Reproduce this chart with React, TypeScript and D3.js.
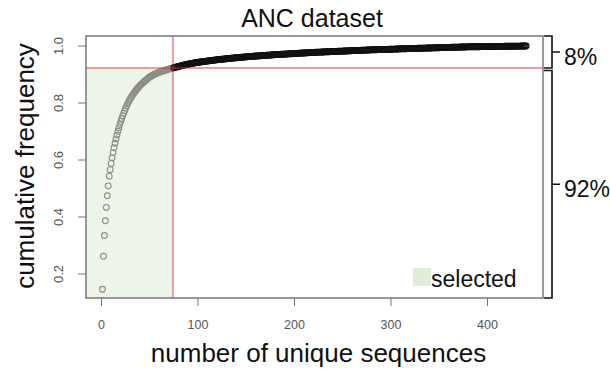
import React from "react";
import * as d3 from "d3";

// Read counts of the most abundant unique sequences, ranks 1-100 (descending)
const topCounts = [
  2940, 2320, 1460, 1040, 940, 820, 700, 680, 460, 440,
  400, 360, 340, 320, 300, 280, 260, 240, 240, 220,
  200, 200, 180, 175, 165, 155, 145, 140, 125, 120,
  115, 110, 100, 100, 90, 88, 84, 80, 76, 72,
  70, 67, 64, 61, 58, 58, 57, 56, 55, 54,
  44, 42, 40, 38, 36, 30, 29, 28, 27, 26,
  25, 24, 23, 23, 23, 22, 21, 21, 20, 20,
  20, 20, 19, 19, 19, 19, 18, 18, 18, 18,
  18, 18, 18, 18, 18, 15, 15, 14, 14, 14,
  14, 13, 13, 13, 13, 12, 12, 12, 11, 11,
];

// Remaining sequences (ranks 101-440) as [reads per sequence, number of sequences]
const tailCountRuns: [number, number][] = [
  [10, 5], [9, 15],
  [7, 22], [6, 12],
  [5, 26], [4, 20],
  [4, 20], [3, 30],
  [3, 30], [2, 20],
  [3, 10], [2, 41],
  [2, 28], [1, 61],
];

const selectedCount = 74;
const xTicks = [0, 100, 200, 300, 400];
const yTicks = [0.2, 0.4, 0.6, 0.8, 1.0];
const title = "ANC dataset";
const xLabel = "number of unique sequences";
const yLabel = "cumulative frequency";
const legendLabel = "selected";

const W = 610;
const H = 371;
const box = { left: 86, right: 543, top: 36, bottom: 298 };

export default function App() {
  const counts: number[] = [...topCounts];
  tailCountRuns.forEach(([c, n]) => {
    for (let i = 0; i < n; i++) counts.push(c);
  });
  const total = d3.sum(counts);
  const cum = d3.cumsum(counts).map((v) => v / total);
  const points = Array.from(cum, (v, i) => ({ rank: i + 1, v }));

  const x = d3.scaleLinear().domain([0, 440]).range([101.5, 101.5 + 440 * 0.965]);
  const y = d3.scaleLinear().domain([0.2, 1.0]).range([274, 46]);

  const cut = cum[selectedCount - 1];
  const cutY = y(cut);
  const cutX = x(selectedCount);
  const topPct = Math.round((1 - cut) * 100);
  const botPct = 100 - topPct;

  const font = "'Liberation Sans', Arial, Helvetica, sans-serif";
  const tickColor = "#555";
  const bx = box.right + 1;
  const bv = 552;
  const bt = 560;
  const upperMid = (box.top + cutY) / 2;
  const lowerTop = cutY + 2.5;
  const lowerMid = (lowerTop + box.bottom) / 2;

  return (
    <svg
      width={W}
      height={H}
      style={{ position: "absolute", left: 0, top: 0, background: "#fff" }}
      fontFamily={font}
    >
      {/* selected region */}
      <rect
        x={box.left}
        y={cutY}
        width={cutX - box.left}
        height={box.bottom - cutY}
        fill="#edf5e8"
      />

      {/* points */}
      <g fill="none" strokeWidth={1.1}>
        {points.map((p) => (
          <circle
            key={p.rank}
            cx={x(p.rank)}
            cy={y(p.v)}
            r={2.9}
            stroke={p.rank <= selectedCount ? "#8e8e86" : "#111"}
          />
        ))}
      </g>

      {/* threshold lines */}
      <g stroke="rgb(220,40,60)" strokeOpacity={0.45} strokeWidth={2}>
        <line x1={box.left} x2={box.right} y1={cutY} y2={cutY} />
        <line x1={cutX} x2={cutX} y1={box.top} y2={box.bottom} />
      </g>

      {/* frame */}
      <rect
        x={box.left}
        y={box.top}
        width={box.right - box.left}
        height={box.bottom - box.top}
        fill="none"
        stroke="#777"
        strokeWidth={1.5}
      />

      {/* x axis */}
      <g>
        {xTicks.map((t) => (
          <g key={t}>
            <line x1={x(t)} x2={x(t)} y1={box.bottom} y2={box.bottom + 8} stroke="#777" strokeWidth={1} />
            <text x={x(t)} y={329} textAnchor="middle" fontSize={12.5} fill={tickColor}>
              {t}
            </text>
          </g>
        ))}
      </g>

      {/* y axis */}
      <g>
        {yTicks.map((t) => (
          <g key={t}>
            <line x1={box.left - 8} x2={box.left} y1={y(t)} y2={y(t)} stroke="#777" strokeWidth={1} />
            <text
              transform={`translate(${63},${y(t)}) rotate(-90)`}
              textAnchor="middle"
              fontSize={13}
              fill={tickColor}
            >
              {d3.format(".1f")(t)}
            </text>
          </g>
        ))}
      </g>

      {/* titles */}
      <text x={312} y={27} textAnchor="middle" fontSize={25} fill="#111">
        {title}
      </text>
      <text x={318.5} y={362} textAnchor="middle" fontSize={26} fill="#111">
        {xLabel}
      </text>
      <text
        transform={`translate(${33.5},${166}) rotate(-90)`}
        textAnchor="middle"
        fontSize={26}
        fill="#111"
      >
        {yLabel}
      </text>

      {/* legend */}
      <rect x={413} y={268} width={18} height={18} fill="#dfeed8" />
      <text x={431} y={286.5} fontSize={23} fill="#111">
        {legendLabel}
      </text>

      {/* brackets */}
      <g stroke="#111" strokeWidth={1.6} fill="none">
        <path d={`M${bx},${box.top}H${bv}V${cutY}H${bx}M${bv},${upperMid}H${bt}`} />
        <path d={`M${bx},${lowerTop}H${bv}V${box.bottom}H${bx}M${bv},${lowerMid}H${bt}`} />
      </g>
      <text x={564} y={upperMid + 13} fontSize={23} fill="#111">
        {`${topPct}%`}
      </text>
      <text x={564} y={lowerMid + 13} fontSize={23} fill="#111">
        {`${botPct}%`}
      </text>
    </svg>
  );
}
